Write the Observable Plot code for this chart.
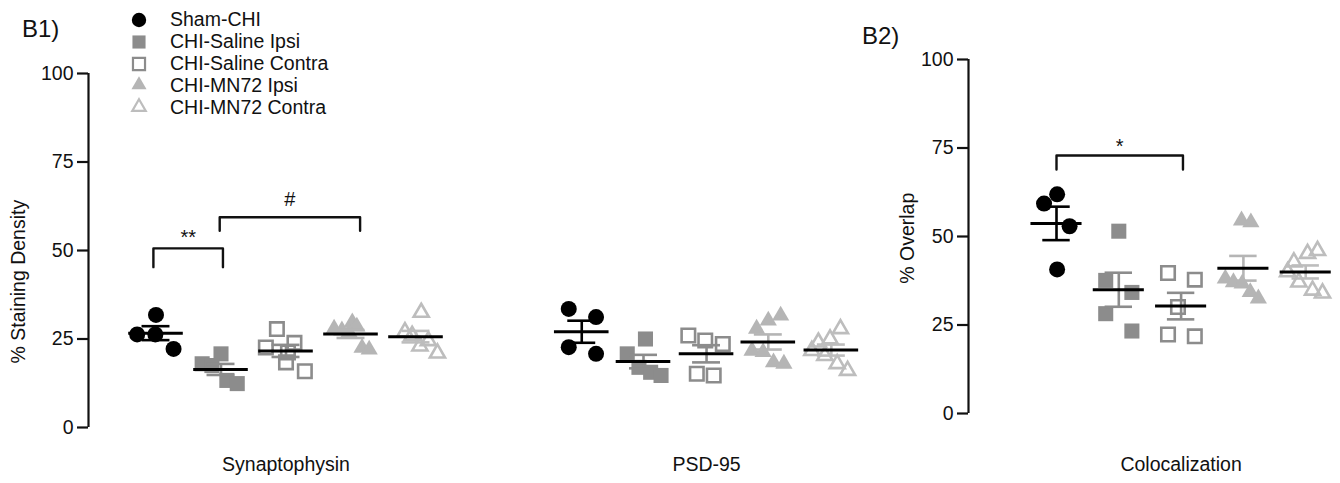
<!DOCTYPE html>
<html><head><meta charset="utf-8">
<script src="https://cdn.jsdelivr.net/npm/d3@7"></script>
<script src="https://cdn.jsdelivr.net/npm/@observablehq/plot@0.6"></script>
<style>
body{margin:0;background:#fff;font-family:"Liberation Sans",Arial,sans-serif;color:#111;}
#wrap{position:relative;width:1340px;height:483px;overflow:hidden;background:#fff;}
#left{position:absolute;left:0;top:0;}
#right{position:absolute;left:880px;top:0;}
.tag{position:absolute;font-size:24px;line-height:24px;color:#111;}
#legend{position:absolute;left:128px;top:9px;font-size:19.5px;}
#legend .row{display:flex;align-items:center;height:21.8px;}
#legend svg{width:22px;height:22px;margin-right:20px;}
</style></head>
<body>
<div id="wrap">
  <div id="left"></div>
  <div id="right"></div>
  <div class="tag" style="left:22px;top:17px;">B1)</div>
  <div class="tag" style="left:862px;top:24px;">B2)</div>
  <div id="legend"></div>
</div>
<script>
// ---- categories ----
const groups = ["Sham-CHI", "CHI-Saline Ipsi", "CHI-Saline Contra", "CHI-MN72 Ipsi", "CHI-MN72 Contra"];
const leftPanels = ["Synaptophysin", "PSD-95"];
const rightPanels = ["Colocalization"];
const yTicks = [0, 25, 50, 75, 100];
const leftYLabel = "% Staining Density";
const rightYLabel = "% Overlap";

// ---- values (one array per group) ----
const synaptophysin = [
  [31.8, 26.3, 26.3, 22.2],
  [20.8, 18.0, 17.5, 13.3, 12.4],
  [27.8, 22.6, 23.9, 21.2, 18.4, 15.9],
  [27.9, 27.4, 29.7, 28.5, 26.9, 22.5, 22.0],
  [32.5, 27.0, 26.0, 24.5, 23.0, 21.0]
];
const psd95 = [
  [33.5, 31.2, 22.7, 20.8],
  [25.0, 20.8, 17.0, 15.6, 14.7],
  [26.0, 24.6, 23.6, 15.2, 14.7],
  [31.6, 30.2, 27.9, 21.7, 21.3, 18.4, 18.0],
  [27.9, 25.0, 24.1, 21.7, 20.3, 18.0, 16.1]
];
const colocalization = [
  [61.9, 59.3, 52.9, 40.7],
  [51.5, 37.6, 34.2, 28.2, 23.3],
  [39.7, 37.8, 30.1, 22.3, 21.8],
  [54.5, 54.0, 38.1, 37.1, 36.7, 34.3, 32.5],
  [46.0, 45.2, 42.8, 40.0, 37.1, 34.8, 34.0]
];
// horizontal scatter of the points inside each group (fraction of group spacing)
const synaptophysinJitter = [
  [0, -0.29, -0.01, 0.27],
  [0, -0.29, -0.14, 0.09, 0.25],
  [-0.14, -0.31, 0.13, 0.03, 0, 0.29],
  [-0.26, -0.14, 0.02, 0.09, -0.03, 0.17, 0.28],
  [0.08, -0.17, -0.06, 0.19, 0.06, 0.33]
];
const psd95Jitter = [
  [-0.2, 0.22, -0.2, 0.22],
  [0.03, -0.25, -0.07, 0.11, 0.27],
  [-0.28, -0.02, 0.25, -0.15, 0.11],
  [0.19, 0, -0.18, -0.25, -0.08, 0.08, 0.24],
  [0.14, -0.02, -0.2, -0.3, -0.1, 0.09, 0.25]
];
const colocalizationJitter = [
  [0.01, -0.2, 0.21, 0.01],
  [0, -0.21, 0.21, -0.21, 0.21],
  [-0.21, 0.22, -0.05, -0.21, 0.22],
  [-0.03, 0.12, -0.29, -0.16, -0.02, 0.11, 0.24],
  [0.19, 0.03, -0.19, -0.29, -0.11, 0.11, 0.27]
];
// group slots on the x axis
const synaptophysinSlots = [0, 1, 2, 3, 4];
const psd95Slots = [6.55, 7.5, 8.47, 9.42, 10.39];
const colocalizationSlots = [0, 1, 2, 3, 4];
const leftPanelSlots = [2, 8.47];
const rightPanelSlots = [2];

// significance annotations
const leftBrackets = [
  {x1: -0.04, x2: 1.03, top: 50.6, foot: 45.3, label: "**", size: 20, dy: -11},
  {x1: 0.98, x2: 3.14, top: 59.4, foot: 55.6, label: "#", size: 20, dy: -18}
];
const rightBrackets = [
  {x1: 0, x2: 2.03, top: 72.9, foot: 68.9, label: "*", size: 20, dy: -9}
];

// ---- styles ----
const symbols = ["circle", "square", "square", "triangle", "triangle"];
const fills = ["#000", "#8c8c8c", "none", "#b5b5b5", "none"];
const strokes = ["none", "none", "#8c8c8c", "none", "#bdbdbd"];
const radii = [8, 8.5, 7.6, 6.4, 5.6];
const barColors = ["#000", "#8c8c8c", "#8c8c8c", "#b5b5b5", "#bdbdbd"];

function build(values, jitter, slots) {
  const pts = [], stats = [];
  values.forEach((vals, g) => {
    vals.forEach((v, i) => pts.push({g, x: slots[g] + jitter[g][i], y: v}));
    const m = d3.mean(vals), se = d3.deviation(vals) / Math.sqrt(vals.length);
    stats.push({g, x: slots[g], mean: m, lo: m - se, hi: m + se, c: barColors[g]});
  });
  return {pts, stats};
}

function groupMarks(data, meanHalf, capHalf) {
  const marks = [];
  groups.forEach((_, g) => {
    marks.push(Plot.dot(data.pts.filter(d => d.g === g), {
      x: "x", y: "y", symbol: () => symbols[g], r: radii[g],
      fill: fills[g], stroke: strokes[g], strokeWidth: strokes[g] === "none" ? 0 : 2.6
    }));
  });
  marks.push(
    Plot.ruleX(data.stats, {x: "x", y1: "lo", y2: "hi", stroke: "c", strokeWidth: 2.6}),
    Plot.ruleY(data.stats, {y: "hi", x1: d => d.x - capHalf, x2: d => d.x + capHalf, stroke: "c", strokeWidth: 2.6}),
    Plot.ruleY(data.stats, {y: "lo", x1: d => d.x - capHalf, x2: d => d.x + capHalf, stroke: "c", strokeWidth: 2.6}),
    Plot.ruleY(data.stats, {y: "mean", x1: d => d.x - meanHalf, x2: d => d.x + meanHalf, stroke: "#000", strokeWidth: 3})
  );
  return marks;
}

function bracketMarks(brackets) {
  const pts = [];
  brackets.forEach((b, i) => {
    pts.push({id: i, x: b.x1, y: b.foot}, {id: i, x: b.x1, y: b.top}, {id: i, x: b.x2, y: b.top}, {id: i, x: b.x2, y: b.foot});
  });
  return [
    Plot.line(pts, {x: "x", y: "y", z: "id", stroke: "#111", strokeWidth: 2.4, curve: "linear"}),
    ...brackets.map(b => Plot.text([b], {x: d => (d.x1 + d.x2) / 2, y: "top", text: "label", dy: b.dy, fontSize: b.size, fill: "#111"}))
  ];
}

function axisMarks(xmin, labelText, labelY, labelDx) {
  return [
    Plot.ruleX([xmin], {x: d => d, y1: 0, y2: 100, stroke: "#111", strokeWidth: 2.2}),
    Plot.axisY({ticks: yTicks, tickSize: 11, tickPadding: 4, fontSize: 19.5, label: null, strokeWidth: 2.2, stroke: "#111", color: "#111"}),
    Plot.text([labelText], {frameAnchor: "left", textAnchor: "middle", y: labelY, dx: labelDx, rotate: -90, fontSize: 19.5, fill: "#111", text: d => d})
  ];
}

const font = "'Liberation Sans', Arial, sans-serif";

// ---- left panel ----
const leftW = 880, leftUnit = 65, leftOrigin = 155.5, leftMargin = 88;
const leftDomain = [(leftMargin - leftOrigin) / leftUnit, (leftW - leftOrigin) / leftUnit];
const syn = build(synaptophysin, synaptophysinJitter, synaptophysinSlots);
const psd = build(psd95, psd95Jitter, psd95Slots);
const leftPlot = Plot.plot({
  width: leftW, height: 483,
  marginLeft: leftMargin, marginRight: 0, marginTop: 73, marginBottom: 56,
  style: {fontFamily: font, background: "transparent", overflow: "visible"},
  x: {domain: leftDomain, axis: null},
  y: {domain: [0, 100], axis: null},
  color: {type: "identity"},
  marks: [
    ...axisMarks(leftDomain[0], leftYLabel, 41.2, -70),
    ...groupMarks(syn, 0.42, 0.215),
    ...groupMarks(psd, 0.42, 0.215),
    ...bracketMarks(leftBrackets),
    Plot.text(leftPanels, {x: (d, i) => leftPanelSlots[i], text: d => d, frameAnchor: "bottom", dy: 43, fontSize: 19.5, fill: "#111"})
  ]
});
document.getElementById("left").appendChild(leftPlot);

// ---- right panel ----
const rightW = 460, rightUnit = 62.3, rightOrigin = 176, rightMargin = 88;
const rightDomain = [(rightMargin - rightOrigin) / rightUnit, (rightW - rightOrigin) / rightUnit];
const col = build(colocalization, colocalizationJitter, colocalizationSlots);
const rightPlot = Plot.plot({
  width: rightW, height: 483,
  marginLeft: rightMargin, marginRight: 0, marginTop: 59, marginBottom: 70,
  style: {fontFamily: font, background: "transparent", overflow: "visible"},
  x: {domain: rightDomain, axis: null},
  y: {domain: [0, 100], axis: null},
  color: {type: "identity"},
  marks: [
    ...axisMarks(rightDomain[0], rightYLabel, 49.5, -61),
    ...groupMarks(col, 0.41, 0.22),
    ...bracketMarks(rightBrackets),
    Plot.text(rightPanels, {x: (d, i) => rightPanelSlots[i], text: d => d, frameAnchor: "bottom", dy: 57, fontSize: 19.5, fill: "#111"})
  ]
});
document.getElementById("right").appendChild(rightPlot);

// ---- legend ----
const legend = d3.select("#legend");
const legendSize = [7.2, 7.4, 6.8, 5.6, 5.0];
groups.forEach((name, g) => {
  const row = legend.append("div").attr("class", "row");
  const svg = row.append("svg").attr("viewBox", "-11 -11 22 22");
  const typ = {circle: d3.symbolCircle, square: d3.symbolSquare, triangle: d3.symbolTriangle}[symbols[g]];
  svg.append("path")
    .attr("d", d3.symbol(typ, Math.PI * legendSize[g] ** 2)())
    .attr("fill", fills[g]).attr("stroke", strokes[g]).attr("stroke-width", strokes[g] === "none" ? 0 : 2.2);
  row.append("span").text(name);
});
</script>
</body></html>
